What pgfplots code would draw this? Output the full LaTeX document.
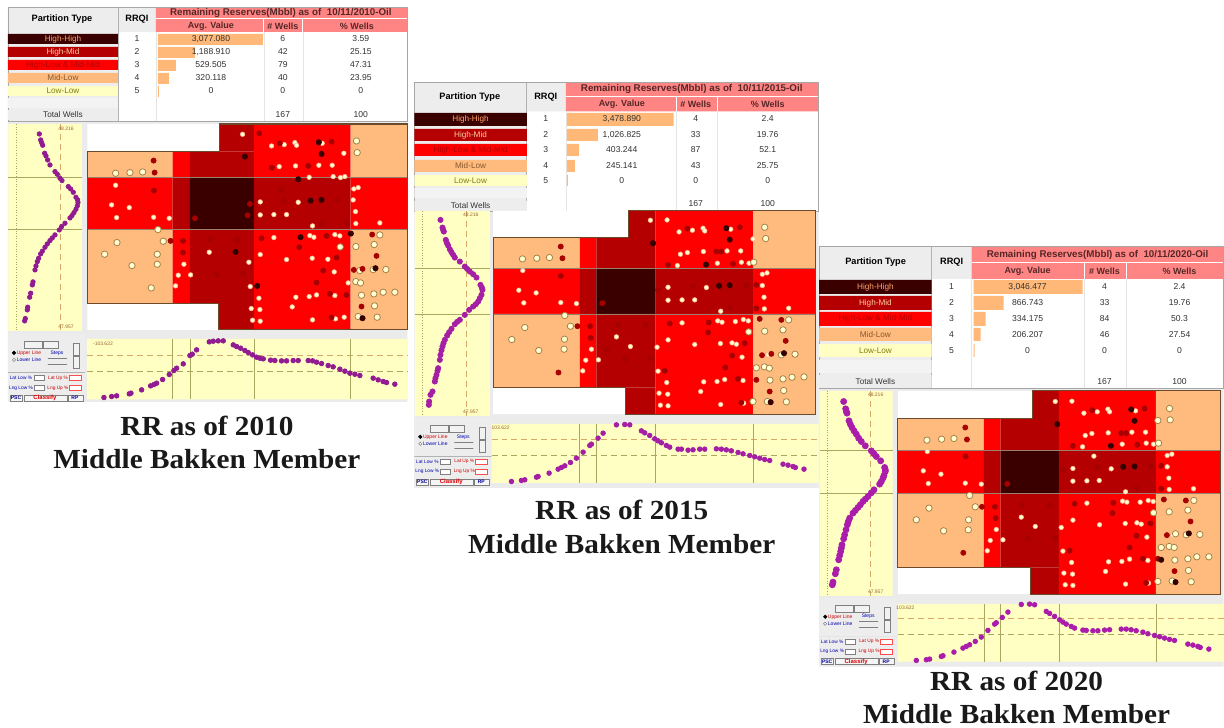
\documentclass[border=0pt]{standalone}
\usepackage{pgfplots}
\pgfplotsset{compat=1.18}
\usepackage{fontspec}
\setmainfont{Liberation Sans}
\newfontfamily\capfont[FakeStretch=1.06]{Liberation Serif}
\definecolor{cD}{HTML}{3A0000}
\definecolor{cH}{HTML}{B40000}
\definecolor{cR}{HTML}{FF0000}
\definecolor{cP}{HTML}{FFBA7E}
\definecolor{cY}{HTML}{FFFFC4}
\definecolor{cPink}{HTML}{FF8585}
\definecolor{cG}{HTML}{EDEDED}
\definecolor{cPanel}{HTML}{EBEBEB}
\definecolor{cB}{HTML}{FFB878}
\definecolor{cOut}{HTML}{6E4A2C}
\definecolor{cPur}{HTML}{A51FA5}
\definecolor{cGrid}{HTML}{A8A860}
\definecolor{cDash}{HTML}{D8A868}
% pixel helpers
\newcommand\rect[5]{\addplot[draw=none,fill=#1,mark=none,forget plot] coordinates {(#2,#3)(#4,#3)(#4,#5)(#2,#5)(#2,#3)};}
\newcommand\seg[6]{\addplot[#1,line width=#2,mark=none,forget plot] coordinates {(#3,#4)(#5,#6)};}
\newcommand\txt[4]{\pgfmathsetmacro\tx{#2}\pgfmathsetmacro\ty{#3}\edef\tmp{\noexpand\node[text=#1,inner sep=0pt] at (axis cs:\tx,\ty) {\unexpanded{#4}};}\tmp}
\newcommand\urect[5]{\pgfmathsetmacro\txa{#2}\pgfmathsetmacro\tya{#3}\pgfmathsetmacro\txb{#4}\pgfmathsetmacro\tyb{#5}\edef\tmp{\noexpand\draw[#1] (axis cs:\txa,\tya) rectangle (axis cs:\txb,\tyb);}\tmp}
\newcommand\udot[4]{\pgfmathsetmacro\txa{#2}\pgfmathsetmacro\tya{#3}\edef\tmp{\noexpand\draw[#1] (axis cs:\txa,\tya) circle[radius=#4];}\tmp}
\newcommand\pts[4]{\addplot[#3,forget plot] table[row sep=\\,header=false,x expr=\thisrowno{0}/3+#1,y expr=\thisrowno{1}/3+#2]{#4};}
\definecolor{HTMLa}{HTML}{FFFFD2}
\definecolor{HTMLb}{HTML}{FFB090}
\definecolor{HTMLc}{HTML}{A58148}
\definecolor{HTMLd}{HTML}{A60000}
\definecolor{HTMLe}{HTML}{350000}
\pgfplotsset{
 wl/.style={only marks,mark=*,mark size=1.15pt,mark options={fill=HTMLa,draw=HTMLb,line width=0.3pt}},
 wr/.style={only marks,mark=*,mark size=1.6pt,mark options={fill=HTMLa,draw=HTMLc,line width=0.4pt}},
 wd/.style={only marks,mark=*,mark size=1.25pt,mark options={fill=HTMLd,draw=HTMLd}},
 wk/.style={only marks,mark=*,mark size=1.3pt,mark options={fill=HTMLe,draw=HTMLe}},
}
% table parts
\newcommand\tframe[6]{% L P R A W E  (uses \tT \tB)
 \rect{white}{#1}{\tT}{#6}{\tB}
 \rect{cG}{#1}{\tT}{#2}{\tB}
 \rect{cG}{#2}{\tT}{#3}{\hB}
 \rect{cPink}{#3}{\tT}{#6}{\hB}
 \seg{white}{0.5pt}{#3}{\hM}{#6}{\hM}
 \seg{white}{0.4pt}{#4}{\hM}{#4}{\hB}
 \seg{white}{0.4pt}{#5}{\hM}{#5}{\hB}
 \seg{gray!60}{0.3pt}{#2}{\tT}{#2}{\tB}
 \seg{gray!20}{0.25pt}{#3}{\hB}{#3}{\tB}
 \seg{gray!20}{0.25pt}{#4}{\hB}{#4}{\tB}
 \seg{gray!20}{0.25pt}{#5}{\hB}{#5}{\tB}
 \addplot[draw=gray!70,line width=0.4pt,mark=none,forget plot] coordinates {(#1,\tT)(#6,\tT)(#6,\tB)(#1,\tB)(#1,\tT)};
}
\newcommand\prow[7]{% L P y1 y2 fill textcol label
 \rect{#5}{#1}{#3}{#2}{#4}
 \txt{#6}{(#1+#2)/2}{(#3+#4)/2}{\fontsize{4.1}{5}\selectfont #7}
}
\newcommand\vrow[9]{% xr xv xw xp y rrqi val n pct
 \txt{black!80}{#1}{#5}{\fontsize{4.3}{5}\selectfont #6}
 \txt{black!80}{#2}{#5}{\fontsize{4.3}{5}\selectfont #7}
 \txt{black!80}{#3}{#5}{\fontsize{4.3}{5}\selectfont #8}
 \txt{black!80}{#4}{#5}{\fontsize{4.3}{5}\selectfont #9}
}
% heat map; uses \cA..\cF, \rA..\rF, \nT, \nB
\newcommand\heatmap{%
 \rect{white}{\cA}{\rA}{\cF}{\rF}
 \rect{cP}{\cA}{\rB}{\cB}{\rC}
 \rect{cR}{\cB}{\rB}{\cC}{\rC}
 \rect{cH}{\cC}{\rB}{\cD}{\rC}
 \rect{cH}{\nT}{\rA}{\cD}{\rB}
 \rect{cR}{\cD}{\rA}{\cE}{\rC}
 \rect{cP}{\cE}{\rA}{\cF}{\rC}
 \rect{cR}{\cA}{\rC}{\cB}{\rD}
 \rect{cH}{\cB}{\rC}{\cC}{\rD}
 \rect{cD}{\cC}{\rC}{\cD}{\rD}
 \rect{cH}{\cD}{\rC}{\cE}{\rD}
 \rect{cR}{\cE}{\rC}{\cF}{\rD}
 \rect{cP}{\cA}{\rD}{\cB}{\rE}
 \rect{cR}{\cB}{\rD}{\cC}{\rE}
 \rect{cH}{\cC}{\rD}{\cD}{\rE}
 \rect{cH}{\nB}{\rE}{\cD}{\rF}
 \rect{cR}{\cD}{\rD}{\cE}{\rF}
 \rect{cP}{\cE}{\rD}{\cF}{\rF}
 \seg{cOut!70}{0.3pt}{\cA}{\rC}{\cF}{\rC}
 \seg{cOut!70}{0.3pt}{\cA}{\rD}{\cF}{\rD}
 \addplot[draw=cOut,line width=0.55pt,mark=none,forget plot] coordinates {(\cA,\rB)(\nT,\rB)(\nT,\rA)(\cF,\rA)(\cF,\rF)(\nB,\rF)(\nB,\rE)(\cA,\rE)(\cA,\rB)};
}
\newcommand\sidep[8]{% x1 y1 x2 y2 vdash vdot h1 h2
 \rect{cY}{#1}{#2}{#3}{#4}
 \seg{cDash,densely dashed}{0.3pt}{#5}{#2}{#5}{#4}
 \seg{cGrid,densely dotted}{0.3pt}{#6}{#2}{#6}{#4}
 \seg{cGrid}{0.3pt}{#1}{#7}{#3}{#7}
 \seg{cGrid}{0.3pt}{#1}{#8}{#3}{#8}
}
\newcommand\botp[6]{% x1 y1 x2 y2 h1 h2
 \rect{cY}{#1}{#2}{#3}{#4}
 \seg{cDash,densely dashed}{0.35pt}{#1}{#5}{#3}{#5}
 \seg{cGrid,densely dashed}{0.3pt}{#1}{#6}{#3}{#6}
}
\newcommand\ui[2]{% x y of top left
 \urect{draw=none,fill=cG}{#1}{#2}{#1+77}{#2+68}
 \urect{draw=gray,fill=white!90!gray,line width=0.25pt}{#1+16}{#2+7}{#1+34}{#2+14}
 \urect{draw=gray,fill=white!90!gray,line width=0.25pt}{#1+35}{#2+7}{#1+50}{#2+14}
 \urect{draw=gray,fill=white!90!gray,line width=0.25pt}{#1+65}{#2+9}{#1+71}{#2+21}
 \urect{draw=gray,fill=white!90!gray,line width=0.25pt}{#1+65}{#2+22}{#1+71}{#2+34}
 \udot{fill=black}{#1+6}{#2+19}{0.8pt}
 \udot{draw=gray,fill=white,line width=0.25pt}{#1+6}{#2+26}{0.8pt}
 \txt{red!80!black}{#1+21}{#2+19}{\fontsize{2.5}{3}\selectfont Upper Line}
 \txt{blue!70!black}{#1+21}{#2+26}{\fontsize{2.5}{3}\selectfont Lower Line}
 \txt{blue!70!black}{#1+49}{#2+19}{\fontsize{2.5}{3}\selectfont Steps}
 \urect{draw=gray,line width=0.3pt}{#1+40}{#2+24}{#1+59}{#2+24}
 \urect{draw=gray,line width=0.3pt}{#1+40}{#2+30}{#1+59}{#2+30}
 \urect{draw=gray!60,line width=0.25pt}{#1}{#2+38}{#1+77}{#2+38}
 \txt{blue!70!black}{#1+13}{#2+44}{\fontsize{2.4}{3}\selectfont Lat Low \%}
 \urect{draw=gray,fill=white,line width=0.25pt}{#1+26}{#2+41.5}{#1+36}{#2+46.5}
 \txt{red!80!black}{#1+50}{#2+44}{\fontsize{2.4}{3}\selectfont Lat Up \%}
 \urect{draw=red!70,fill=white,line width=0.25pt}{#1+61}{#2+41.5}{#1+73}{#2+46.5}
 \txt{blue!70!black}{#1+13}{#2+54}{\fontsize{2.4}{3}\selectfont Lng Low \%}
 \urect{draw=gray,fill=white,line width=0.25pt}{#1+26}{#2+51.5}{#1+36}{#2+56.5}
 \txt{red!80!black}{#1+50}{#2+54}{\fontsize{2.4}{3}\selectfont Lng Up \%}
 \urect{draw=red!70,fill=white,line width=0.25pt}{#1+61}{#2+51.5}{#1+73}{#2+56.5}
 \urect{draw=gray,fill=white!92!gray,line width=0.25pt}{#1+2}{#2+61}{#1+14}{#2+67}
 \txt{blue!60!black}{#1+8}{#2+64}{\fontsize{2.5}{3}\selectfont\bfseries PSC}
 \urect{draw=gray,fill=white!92!gray,line width=0.25pt}{#1+16}{#2+61}{#1+59}{#2+67}
 \txt{red!85!black}{#1+37}{#2+64}{\fontsize{3}{3}\selectfont\bfseries Classify}
 \urect{draw=gray,fill=white!92!gray,line width=0.25pt}{#1+60}{#2+61}{#1+75}{#2+67}
 \txt{blue!60!black}{#1+67}{#2+64}{\fontsize{2.5}{3}\selectfont\bfseries RP}
}
\newcommand\smalltxt[3]{\txt{brown!80!black}{#1}{#2}{\fontsize{2.5}{3}\selectfont #3}}
\newcommand\capt[3]{\txt{black!90}{#1}{#2}{\capfont\fontsize{13.8}{16}\selectfont\bfseries #3}}
\newcommand\hdr[3]{\txt{cD!85}{#1}{#2}{\fontsize{4.9}{5}\selectfont\bfseries Remaining Reserves(Mbbl) as of\ \ #3}}
\newcommand\thead[7]{% xPart xR yTop xA xW xP ySub
 \txt{black}{#1}{#3}{\fontsize{4.6}{5}\selectfont\bfseries Partition Type}
 \txt{black}{#2}{#3}{\fontsize{4.6}{5}\selectfont\bfseries RRQI}
 \txt{cD!85}{#4}{#7}{\fontsize{4.5}{5}\selectfont\bfseries Avg. Value}
 \txt{cD!85}{#5}{#7}{\fontsize{4.5}{5}\selectfont\bfseries \# Wells}
 \txt{cD!85}{#6}{#7}{\fontsize{4.5}{5}\selectfont\bfseries \% Wells}
}
\begin{document}
\begin{tikzpicture}
\begin{axis}[
 at={(0,0)},anchor=south west,scale only axis,width=612pt,height=364pt,
 xmin=0,xmax=1224,ymin=0,ymax=728,y dir=reverse,hide axis,clip=false,
]
\rect{white}{0}{0}{1224}{728}
%================= PANEL 1
\rect{cPanel}{8}{121}{407.5}{402}
\def\tT{7.5}\def\tB{121}\def\hM{19}\def\hB{32}
\tframe{8}{118}{156}{264}{303}{407.5}
\rect{cB}{158}{34}{263}{45}
\rect{cB}{158}{47}{195}{58}
\rect{cB}{158}{60}{176}{71}
\rect{cB}{158}{73}{169}{84}
\rect{cB}{158}{86}{159}{97}
\hdr{281}{13}{10/11/2010-Oil}
\thead{62}{137}{19}{211}{283}{357}{26}
\prow{8}{118}{34}{44}{cD}{cP!90!red}{High-High}
\prow{8}{118}{47}{57}{cH}{cP!70!white}{High-Mid}
\prow{8}{118}{60}{70}{cR}{cH}{High-Low \& Mid-Mid}
\prow{8}{118}{73}{83}{cP}{brown!70!black}{Mid-Low}
\prow{8}{118}{86}{96}{cY}{olive!90!black}{Low-Low}
\rect{cG!80!gray!30}{8}{98}{118}{108}
\prow{8}{118}{110}{120}{cG}{black!80}{Total Wells}
\vrow{137}{211}{283}{361}{39}{1}{3,077.080}{6}{3.59}
\vrow{137}{211}{283}{361}{52}{2}{1,188.910}{42}{25.15}
\vrow{137}{211}{283}{361}{65}{3}{529.505}{79}{47.31}
\vrow{137}{211}{283}{361}{78}{4}{320.118}{40}{23.95}
\vrow{137}{211}{283}{361}{91}{5}{0}{0}{0}
\vrow{137}{211}{283}{361}{115}{}{}{167}{100}
\def\cA{87.3}\def\cB{172.7}\def\cC{190}\def\cD{254}\def\cE{350.7}\def\cF{407.3}
\def\rA{124}\def\rB{151.7}\def\rC{177.7}\def\rD{229.3}\def\rE{304}\def\rF{330}
\def\nT{220}\def\nB{218.3}
\sidep{8.3}{124}{82}{331}{60}{16}{177.7}{229.3}
\heatmap
\smalltxt{66}{128.5}{48.216}\smalltxt{66}{327}{47.957}
\botp{87}{339}{407.5}{399.5}{355}{371.7}
\seg{cGrid}{0.3pt}{172.7}{339}{172.7}{399.5}\seg{cGrid}{0.3pt}{190}{339}{190}{399.5}\seg{cGrid}{0.3pt}{254}{339}{254}{399.5}\seg{cGrid}{0.3pt}{350.7}{339}{350.7}{399.5}
\smalltxt{103}{344}{-103.622}
\ui{8}{334}
\pts{0}{120}{wl}{728 43\\815 78\\853 74\\885 68\\890 76\\967 70\\1032 100\\838 140\\887 138\\957 136\\997 136\\1000 170\\1022 173\\1035 170\\928 172\\347 196\\1075 203\\1062 207\\1060 240\\781 246\\895 247\\335 255\\388 263\\1067 275\\350 293\\461 292\\508 295\\781 285\\822 284\\860 284\\1068 311\\1140 309\\938 318\\930 347\\942 352\\1005 344\\1020 348\\822 353\\628 397\\781 404\\860 419\\937 415\\984 418\\552 433\\747 427\\1003 456\\535 466\\572 465\\1045 489\\527 498\\751 500\\777 535\\888 532\\928 530\\950 525\\1005 527\\877 561\\754 566\\780 569\\758 601\\781 604\\938 600\\1007 597\\1033 592\\}
\pts{0}{120}{wr}{1070 63\\1072 98\\347 160\\390 158\\428 156\\474 329\\1140 345\\351 368\\490 364\\1123 374\\1068 380\\1021 381\\314 403\\472 403\\472 433\\396 437\\1080 452\\1120 449\\1158 449\\1068 485\\1082 489\\454 504\\1085 526\\1122 522\\1150 517\\1185 517\\1124 558\\1075 590\\1132 592\\}
\pts{0}{120}{wd}{778 40\\840 70\\995 65\\461 122\\464 158\\462 212\\816 143\\925 138\\845 210\\1012 240\\852 243\\750 252\\743 286\\585 295\\1040 310\\965 310\\512 363\\549 363\\630 358\\712 360\\785 355\\980 348\\1117 344\\1130 408\\898 382\\549 398\\1010 413\\970 452\\1062 450\\1088 447\\650 465\\730 462\\950 488\\990 522\\1040 525\\1085 560\\995 593\\}
\pts{0}{120}{wk}{957 67\\965 102\\735 110\\895 178\\932 242\\965 240\\902 352\\1053 341\\707 396\\1127 445\\1088 595\\772 498\\}
\pts{0}{120}{only marks,mark=*,mark size=1.1pt,color=cPur!88!black}{118 42\\122 60\\125 68\\128 76\\134 100\\138 108\\143 120\\150 135\\165 155\\172 163\\180 175\\186 182\\205 200\\212 207\\220 217\\228 232\\233 240\\234 248\\232 258\\228 268\\222 278\\216 287\\210 294\\195 310\\185 320\\178 330\\165 345\\157 354\\150 362\\142 372\\135 382\\127 394\\122 402\\116 415\\112 425\\108 438\\105 450\\99 486\\97 495\\92 520\\89 532\\83 562\\82 570\\76 596\\74 603\\}
\pts{0}{120}{only marks,mark=*,mark size=1.15pt,color=cPur!88!black}{312 833\\335 830\\350 828\\388 822\\393 820\\425 810\\452 798\\462 794\\470 790\\488 779\\508 764\\522 752\\530 745\\550 732\\570 707\\577 703\\590 690\\628 666\\640 664\\655 663\\670 663\\700 675\\710 680\\722 685\\735 692\\745 698\\758 705\\770 712\\780 715\\790 717\\812 721\\825 722\\845 723\\860 723\\880 722\\895 722\\925 722\\938 723\\950 727\\965 731\\985 737\\1000 741\\1020 748\\1035 754\\1050 760\\1065 763\\1080 767\\1120 775\\1135 780\\1150 785\\1160 788\\1185 793\\}
\capt{207}{426}{RR as of 2010}
\capt{207}{459}{Middle Bakken Member}
%================= PANEL 2
\rect{cPanel}{414.5}{205}{819}{488}
\def\tT{82.5}\def\tB{211}\def\hM{96.5}\def\hB{111.5}
\tframe{414.5}{527}{566}{677}{718}{819}
\rect{cB}{567}{113}{674}{126}
\rect{cB}{567}{129}{598}{141}
\rect{cB}{567}{144}{579}{156}
\rect{cB}{567}{160}{575}{172}
\rect{cB}{567}{175}{568}{186}
\hdr{692}{89}{10/11/2015-Oil}
\thead{470}{546}{97}{622}{696}{768}{104}
\prow{414.5}{527}{113}{126}{cD}{cP!90!red}{High-High}
\prow{414.5}{527}{129}{141}{cH}{cP!70!white}{High-Mid}
\prow{414.5}{527}{144}{156}{cR}{cH}{High-Low \& Mid-Mid}
\prow{414.5}{527}{160}{172}{cP}{brown!70!black}{Mid-Low}
\prow{414.5}{527}{175}{186}{cY}{olive!90!black}{Low-Low}
\rect{cG!80!gray!30}{414.5}{188}{527}{198}
\prow{414.5}{527}{201}{211}{cG}{black!80}{Total Wells}
\vrow{546}{622}{696}{768}{119}{1}{3,478.890}{4}{2.4}
\vrow{546}{622}{696}{768}{135}{2}{1,026.825}{33}{19.76}
\vrow{546}{622}{696}{768}{150}{3}{403.244}{87}{52.1}
\vrow{546}{622}{696}{768}{166}{4}{245.141}{43}{25.75}
\vrow{546}{622}{696}{768}{181}{5}{0}{0}{0}
\vrow{546}{622}{696}{768}{204}{}{}{167}{100}
\def\cA{493.3}\def\cB{580}\def\cC{596.7}\def\cD{656}\def\cE{753.3}\def\cF{816}
\def\rA{211}\def\rB{237.3}\def\rC{268.3}\def\rD{314}\def\rE{387.7}\def\rF{414.3}
\def\nT{628.3}\def\nB{626}
\sidep{415}{211}{490}{416}{466.7}{422.7}{268.3}{314}
\heatmap
\smalltxt{471}{214.5}{48.216}\smalltxt{471}{412}{47.957}
\botp{491.7}{424}{819}{483}{440}{455}
\seg{cGrid}{0.3pt}{580}{424}{580}{483}\seg{cGrid}{0.3pt}{596.7}{424}{596.7}{483}\seg{cGrid}{0.3pt}{656}{424}{656}{483}\seg{cGrid}{0.3pt}{753.3}{424}{753.3}{483}
\smalltxt{500}{428}{-103.622}
\ui{414.5}{418}
\pts{410}{205}{wl}{722 46\\772 45\\808 81\\848 76\\880 70\\885 78\\963 73\\1030 102\\833 143\\812 148\\881 140\\952 138\\993 138\\803 182\\923 175\\995 172\\1018 175\\339 197\\1072 204\\1058 208\\1058 242\\775 247\\890 248\\327 256\\379 264\\1063 277\\342 294\\453 293\\500 296\\775 286\\817 285\\855 285\\1064 312\\1137 310\\933 319\\924 348\\937 352\\1001 344\\1016 348\\977 350\\817 354\\620 396\\775 405\\855 419\\932 416\\967 414\\980 418\\662 425\\742 427\\545 433\\997 457\\1075 450\\528 466\\566 465\\519 498\\745 499\\771 533\\882 531\\922 530\\945 524\\1000 527\\873 560\\748 565\\774 568\\752 601\\775 603\\933 599\\1002 595\\}
\pts{410}{205}{wr}{1065 67\\1068 101\\338 162\\381 160\\419 158\\1032 172\\465 332\\1137 345\\345 368\\482 364\\1120 375\\1065 379\\1017 381\\306 404\\464 403\\463 433\\387 437\\1156 448\\1115 450\\1040 489\\1064 486\\1079 490\\1081 526\\1120 522\\1147 517\\1183 516\\1122 557\\1030 590\\1073 590\\1130 591\\}
\pts{410}{205}{wd}{453 125\\458 160\\453 213\\833 71\\990 67\\920 140\\935 140\\775 180\\970 177\\850 245\\1010 242\\1040 240\\1040 310\\960 310\\503 364\\541 364\\625 360\\708 360\\780 356\\897 353\\1050 342\\1115 345\\895 383\\543 399\\1128 408\\1005 415\\967 452\\1057 451\\1085 447\\645 462\\722 460\\947 488\\765 498\\446 503\\985 522\\1040 525\\1080 560\\995 593\\745 255\\590 435\\578 295\\}
\pts{410}{205}{wk}{950 70\\960 104\\730 115\\889 179\\928 243\\960 241\\1123 445\\1083 592\\}
\pts{410}{205}{only marks,mark=*,mark size=1.3pt,color=cPur}{92 45\\98 68\\100 75\\102 80\\108 105\\111 114\\115 122\\120 133\\125 142\\130 150\\135 158\\150 170\\165 185\\172 192\\180 200\\190 208\\200 218\\212 240\\216 248\\218 255\\215 270\\210 280\\205 290\\198 298\\190 305\\178 315\\165 330\\150 345\\142 351\\135 358\\125 372\\118 382\\112 392\\105 405\\101 415\\98 425\\95 436\\92 450\\90 465\\85 490\\83 498\\80 510\\77 520\\75 530\\68 560\\62 570\\58 590\\57 600\\}
\pts{410}{205}{only marks,mark=*,mark size=1.15pt,color=cPur}{305 830\\335 827\\345 825\\380 817\\385 815\\418 805\\445 793\\455 788\\465 783\\482 773\\500 760\\520 742\\540 722\\545 718\\565 700\\580 685\\620 660\\645 659\\660 660\\695 678\\705 684\\720 692\\735 702\\745 708\\755 714\\770 722\\780 727\\805 733\\815 733\\835 736\\850 735\\870 733\\885 733\\920 732\\935 733\\950 735\\965 738\\985 743\\1000 747\\1020 752\\1035 756\\1050 760\\1065 764\\1080 767\\1120 778\\1135 781\\1150 785\\1157 788\\1183 793\\}
\capt{622}{510}{RR as of 2015}
\capt{622}{544}{Middle Bakken Member}
%================= PANEL 3
\rect{cPanel}{819.5}{385}{1224}{667}
\def\tT{246.5}\def\tB{389}\def\hM{263}\def\hB{279}
\tframe{819.5}{932}{972}{1085}{1127}{1224}
\rect{cB}{974}{280}{1083}{294}
\rect{cB}{974}{296}{1004}{310}
\rect{cB}{974}{312}{986}{326}
\rect{cB}{974}{328}{981}{341}
\rect{cB}{974}{344}{975}{357}
\hdr{1098}{255}{10/11/2020-Oil}
\thead{876}{952}{262}{1028}{1105}{1180}{271}
\prow{819.5}{932}{280}{294}{cD}{cP!90!red}{High-High}
\prow{819.5}{932}{296}{310}{cH}{cP!70!white}{High-Mid}
\prow{819.5}{932}{312}{326}{cR}{cH}{High-Low \& Mid-Mid}
\prow{819.5}{932}{328}{341}{cP}{brown!70!black}{Mid-Low}
\prow{819.5}{932}{344}{357}{cY}{olive!90!black}{Low-Low}
\rect{cG!80!gray!30}{819.5}{360}{932}{373}
\prow{819.5}{932}{375}{388}{cG}{black!80}{Total Wells}
\vrow{952}{1028}{1105}{1180}{287}{1}{3,046.477}{4}{2.4}
\vrow{952}{1028}{1105}{1180}{303}{2}{866.743}{33}{19.76}
\vrow{952}{1028}{1105}{1180}{319}{3}{334.175}{84}{50.3}
\vrow{952}{1028}{1105}{1180}{335}{4}{206.207}{46}{27.54}
\vrow{952}{1028}{1105}{1180}{351}{5}{0}{0}{0}
\vrow{952}{1028}{1105}{1180}{382}{}{}{167}{100}
\def\cA{898.3}\def\cB{984.3}\def\cC{1001}\def\cD{1059.3}\def\cE{1156.3}\def\cF{1221}
\def\rA{391}\def\rB{418.3}\def\rC{450.7}\def\rD{493.7}\def\rE{567.7}\def\rF{594.3}
\def\nT{1033.3}\def\nB{1031}
\sidep{820}{391}{893}{596}{871}{827.7}{450.7}{493.7}
\heatmap
\smalltxt{876}{395}{48.216}\smalltxt{876}{592}{47.957}
\botp{898}{604}{1224}{662}{619}{634.3}
\seg{cGrid}{0.3pt}{984.3}{604}{984.3}{662}\seg{cGrid}{0.3pt}{1001}{604}{1001}{662}\seg{cGrid}{0.3pt}{1059.3}{604}{1059.3}{662}\seg{cGrid}{0.3pt}{1156.3}{604}{1156.3}{662}
\smalltxt{905}{608}{-103.622}
\ui{819.5}{598}
\pts{815}{385}{wl}{722 50\\772 49\\808 85\\848 81\\880 73\\885 81\\963 78\\832 146\\812 152\\881 144\\952 142\\993 142\\804 186\\923 178\\995 175\\1017 178\\838 214\\338 200\\1072 208\\1058 212\\1058 246\\775 251\\890 252\\326 258\\379 268\\1063 280\\341 296\\452 295\\500 298\\775 289\\817 288\\854 287\\1064 314\\1137 312\\933 321\\924 349\\937 352\\1001 347\\1016 350\\977 352\\817 355\\620 397\\775 406\\855 420\\932 416\\967 414\\980 418\\662 425\\740 428\\545 434\\997 457\\1075 451\\527 467\\565 465\\518 498\\745 499\\771 533\\882 531\\922 530\\945 523\\1000 527\\873 560\\748 565\\774 568\\752 600\\775 602\\933 598\\1002 595\\}
\pts{815}{385}{wr}{1065 71\\1067 105\\1030 107\\337 166\\381 163\\418 161\\1032 175\\465 332\\1138 347\\343 370\\482 366\\1120 376\\1064 381\\1017 384\\305 405\\462 405\\461 435\\387 438\\1156 449\\1115 450\\1083 447\\1040 488\\1064 485\\1079 488\\1081 526\\1120 522\\1147 516\\1183 516\\1122 557\\1030 590\\1073 589\\1130 591\\}
\pts{815}{385}{wd}{452 128\\457 164\\453 215\\833 76\\990 71\\920 145\\935 145\\775 183\\968 180\\850 247\\1010 245\\1040 243\\1040 312\\965 312\\502 366\\541 366\\622 361\\705 361\\780 357\\896 354\\1048 344\\1114 347\\894 385\\543 400\\1128 410\\1008 416\\966 453\\1057 451\\640 462\\722 460\\945 488\\765 498\\446 504\\985 522\\1030 522\\1080 559\\995 594\\745 255\\578 297\\}
\pts{815}{385}{wk}{950 74\\960 108\\728 118\\889 183\\926 246\\960 245\\1040 525\\1123 446\\1083 592\\}
\pts{815}{385}{only marks,mark=*,mark size=1.5pt,color=cPur!95!magenta}{87 50\\93 72\\95 80\\97 85\\103 108\\107 118\\112 128\\118 138\\125 148\\132 160\\140 170\\152 183\\170 198\\178 207\\185 215\\198 228\\210 248\\212 255\\212 260\\208 272\\205 280\\200 290\\195 298\\178 315\\170 324\\160 335\\152 343\\145 350\\137 360\\130 368\\122 377\\115 385\\105 400\\101 410\\98 420\\94 435\\90 450\\87 462\\82 480\\80 490\\78 500\\75 512\\72 525\\65 555\\62 567\\55 592\\53 600\\}
\pts{815}{385}{only marks,mark=*,mark size=1.15pt,color=cPur!95!magenta}{305 827\\335 825\\345 823\\380 815\\385 813\\418 802\\445 790\\455 785\\465 780\\482 770\\500 757\\520 737\\540 718\\545 714\\563 698\\580 682\\620 659\\645 658\\660 660\\695 680\\705 686\\720 695\\735 705\\745 712\\755 718\\770 725\\780 730\\805 736\\815 737\\835 738\\850 738\\870 736\\885 735\\920 733\\935 733\\950 735\\965 738\\985 742\\1000 747\\1020 752\\1035 756\\1050 760\\1065 764\\1080 767\\1120 778\\1135 781\\1150 785\\1157 788\\1183 793\\}
\capt{1017}{681}{RR as of 2020}
\capt{1017}{714}{Middle Bakken Member}
\end{axis}
\end{tikzpicture}
\end{document}
